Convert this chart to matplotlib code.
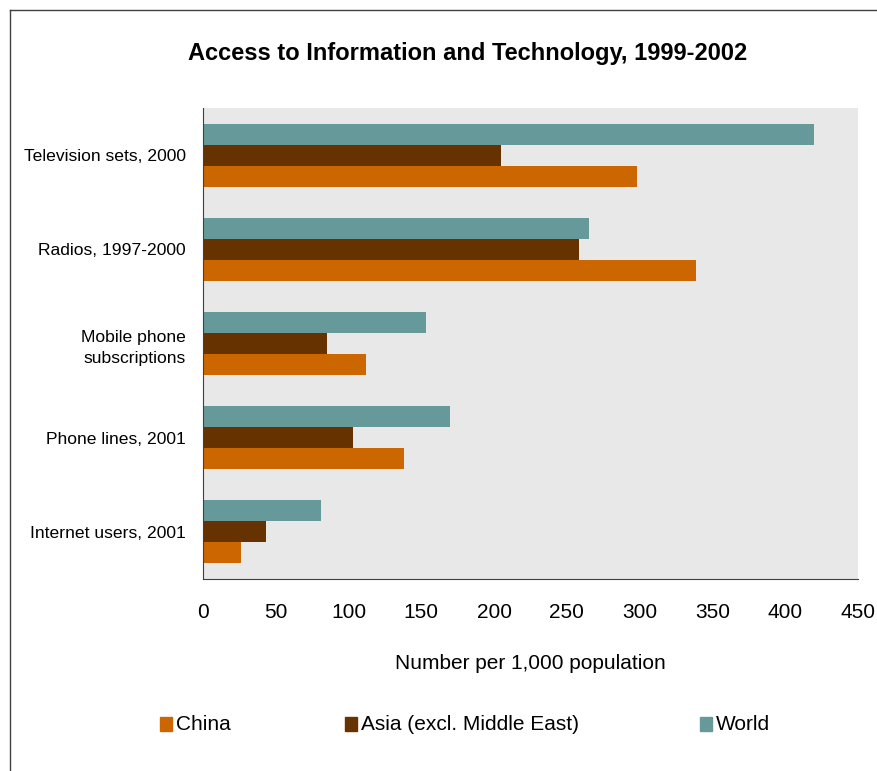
import numpy as np
from matplotlib import pyplot as plt
from matplotlib.patches import Rectangle

plt.rcParams['font.family'] = ['Liberation Sans', 'DejaVu Sans']

categories = ['Television sets, 2000', 'Radios, 1997-2000', 'Mobile phone\nsubscriptions',
              'Phone lines, 2001', 'Internet users, 2001']
china = [298, 339, 112, 138, 26]
asia = [205, 258, 85, 103, 43]
world = [420, 265, 153, 170, 81]
series_names = ['China', 'Asia (excl. Middle East)', 'World']
colors = ['#CC6600', '#663300', '#669999']

fig = plt.figure(figsize=(8.78, 7.71), dpi=100)
ax = fig.add_axes([0.2312, 0.249, 0.746, 0.611])
ax.set_facecolor('#E8E8E8')

y = np.arange(len(categories))
h = 0.223
ax.barh(y + h, china, height=h, color=colors[0], label=series_names[0])
ax.barh(y, asia, height=h, color=colors[1], label=series_names[1])
ax.barh(y - h, world, height=h, color=colors[2], label=series_names[2])

ax.set_ylim(len(categories) - 0.5, -0.5)
ax.set_yticks(y)
ax.set_yticklabels(categories, fontsize=12.6, linespacing=1.5)
ax.set_xlim(0, 450)
ax.set_xticks(np.arange(0, 451, 50))
ax.tick_params(axis='x', labelsize=15, length=0, pad=17)
ax.tick_params(axis='y', length=0, pad=12.5)
for lbl in ax.get_yticklabels():
    lbl.set_horizontalalignment('right')
ax.spines['top'].set_visible(False)
ax.spines['right'].set_visible(False)
ax.spines['left'].set_color('#404040')
ax.spines['bottom'].set_color('#404040')
ax.set_xlabel('Number per 1,000 population', fontsize=15, labelpad=23)

fig.text(0.533, 0.931, 'Access to Information and Technology, 1999-2002',
         ha='center', va='center', fontsize=17, fontweight='bold')

# legend entries
leg_x = [0.182, 0.393, 0.797]
for name, c, lx in zip(series_names, colors, leg_x):
    fig.patches.append(Rectangle((lx, 0.0545 - 0.003), 0.0137, 0.018, transform=fig.transFigure,
                                 color=c, figure=fig))
    fig.text(lx + 0.018, 0.0605, name, ha='left', va='center', fontsize=15)

# outer frame
fig.add_artist(plt.Line2D([0.011, 0.011], [0, 0.987], color='#404040', lw=1))
fig.add_artist(plt.Line2D([0.011, 1.0], [0.987, 0.987], color='#404040', lw=1))

plt.savefig('out.png', dpi=100)
